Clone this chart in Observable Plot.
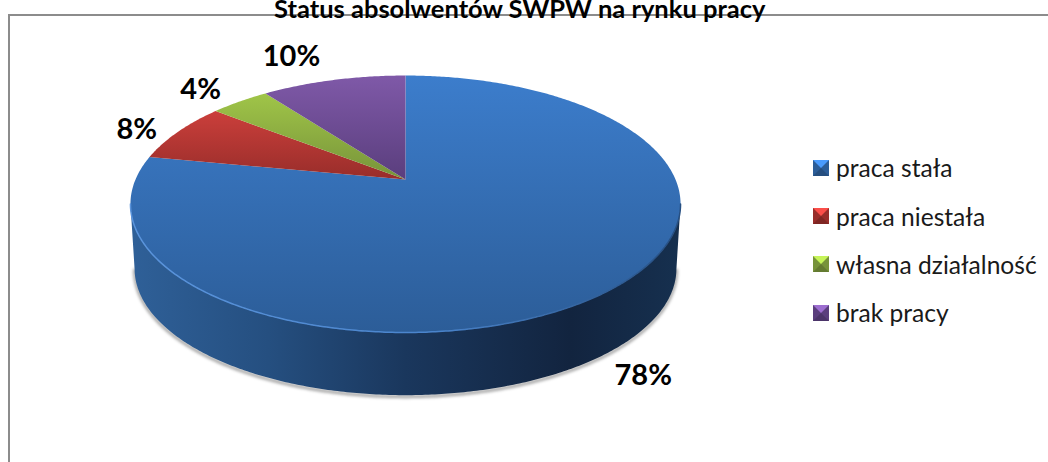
<!DOCTYPE html>
<html><head><meta charset="utf-8">
<script src="https://cdn.jsdelivr.net/npm/d3@7"></script>
<script src="https://cdn.jsdelivr.net/npm/@observablehq/plot@0.6"></script>
<style>
html,body{margin:0;padding:0;background:#fff;overflow:hidden}
#wrap{position:relative;width:1048px;height:462px;overflow:hidden}
#legend{position:absolute;left:813px;top:143.5px;font-family:Lato,sans-serif;font-size:24.6px;color:#1a1a1a;white-space:nowrap}
#legend .row{display:flex;align-items:center;height:48.4px}
#legend .sw{width:0;height:0;border-style:solid;border-width:8.5px;margin-right:7px}
</style></head><body>
<div id="wrap"><div id="legend"></div></div>
<script>
const title = "Status absolwentów SWPW na rynku pracy";
const categories = ["praca stała","praca niestała","własna działalność","brak pracy"];
const values = [78,7.6,4.2,10.2];
const topColors = ["#3c7dcc","#cb3f3b","#a0c548","#7f59a8"];
const bottomColors = ["#2c5d98","#982d2a","#77933a","#5a3e7d"];
const wallStops = [[0,"#2f6098"],[0.25,"#254f80"],[0.5,"#1a375d"],[0.8,"#12243f"],[1,"#16304f"]];

const tilt = -0.1907;        // perspective foreshortening
const drop = 0.525;          // pie thickness, in y units
const shrink = 0.985;        // bottom rim is slightly narrower

const project = (u, v) => ({X: u / (1 + tilt * v), Y: v / (1 + tilt * v)});
const rim = a => project(Math.sin(a), -Math.cos(a));
const arcs = d3.pie().sort(null)(values);
const sweep = (a0, a1) => {
  const n = Math.max(2, Math.ceil(Math.abs(a1 - a0) / 0.01));
  return d3.range(n + 1).map(i => rim(a0 + (a1 - a0) * i / n));
};
const slices = arcs.map(a => [{X:0,Y:0}, ...sweep(a.startAngle, a.endAngle), {X:0,Y:0}]);

// angles of the widest points of the projected ellipse bound the visible wall
const widest = Math.acos(tilt);
const frontTop = sweep(widest, 2 * Math.PI - widest);
const frontBottom = frontTop.map(p => ({X: p.X * shrink, Y: p.Y * shrink + drop}));
const wall = [...frontTop, ...frontBottom.slice().reverse()];
const shadow = frontBottom.map(p => ({X: p.X, Y: p.Y + 0.012}));

const mids = arcs.map(a => rim((a.startAngle + a.endAngle) / 2));
const labelRows = values.map((v, i) => ({t: Math.round(v) + "%", X: mids[i].X, Y: mids[i].Y}));
const offsets = [[36,84],[-41,-2],[-39,-12],[-42,-23]];

const defs = () => {
  const d = d3.create("svg:defs");
  topColors.forEach((c, i) => {
    const g = d.append("linearGradient").attr("id", "g" + i).attr("x1",0).attr("x2",0).attr("y1",0).attr("y2",1);
    g.append("stop").attr("offset",0).attr("stop-color",c);
    g.append("stop").attr("offset",1).attr("stop-color",bottomColors[i]);
  });
  const w = d.append("linearGradient").attr("id","wall");
  wallStops.forEach(([o,c]) => w.append("stop").attr("offset",o).attr("stop-color",c));
  const e = d.append("linearGradient").attr("id","edge");
  e.append("stop").attr("offset",0).attr("stop-color","#5a94dc");
  e.append("stop").attr("offset",0.55).attr("stop-color","#4a84cc");
  e.append("stop").attr("offset",1).attr("stop-color","#264f82");
  return d.node();
};

const chart = Plot.plot({
  width: 1048, height: 462,
  marginTop: 14.5, marginLeft: 8.5, marginRight: -4, marginBottom: -4,
  x: {domain:[-1,1], range:[135,675], axis:null},
  y: {domain:[-1,1], range:[55.2,302.8], axis:null},
  style: {background:"#fff"},
  marks: [
    defs,
    Plot.frame({stroke:"#8c8c8c", strokeWidth:2, strokeOpacity:1}),
    Plot.line(shadow, {x:"X", y:"Y", stroke:"#555", strokeWidth:3, strokeOpacity:.55, imageFilter:"blur(1.5px)"}),
    Plot.line(wall, {x:"X", y:"Y", fill:"url(#wall)", stroke:"none"}),
    ...slices.map((s, i) => Plot.line(s, {x:"X", y:"Y", fill:`url(#g${i})`, stroke:"none"})),
    Plot.line(frontTop, {x:"X", y:"Y", stroke:"url(#edge)", strokeWidth:1.5}),
    ...labelRows.map((r, i) => Plot.text([r], {x:"X", y:"Y", text:"t", dx:offsets[i][0], dy:offsets[i][1],
      fontFamily:"Lato,sans-serif", fontWeight:700, fontSize:29, fill:"#000"})),
    Plot.text([title], {frameAnchor:"top", dx:-11, dy:-15, text:d=>d, fontFamily:"Lato,sans-serif", fontWeight:700, fontSize:25.5, fill:"#000"})
  ]
});
document.getElementById("wrap").prepend(chart);
const lg = d3.select("#legend");
categories.forEach((c,i)=>{
  const r = lg.append("div").attr("class","row");
  r.append("span").attr("class","sw").style("border-color",`${d3.color(topColors[i]).brighter(.6)} ${bottomColors[i]} ${d3.color(bottomColors[i]).darker(.5)} ${bottomColors[i]}`);
  r.append("span").text(c);
});
</script></body></html>
